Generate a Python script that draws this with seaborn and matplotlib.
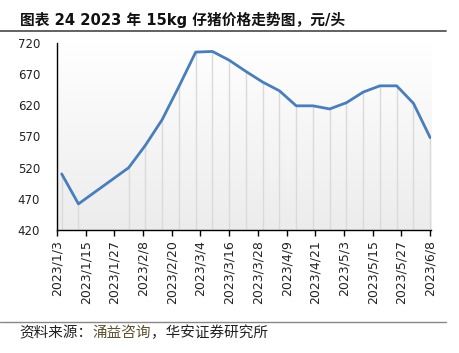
import numpy as np
import pandas as pd
import matplotlib
matplotlib.use("Agg")
import matplotlib.pyplot as plt
import seaborn as sns

dates = ["2023-01-05", "2023-01-12", "2023-02-02", "2023-02-09", "2023-02-16", "2023-02-23",
         "2023-03-02", "2023-03-09", "2023-03-16", "2023-03-23", "2023-03-30", "2023-04-06",
         "2023-04-13", "2023-04-20", "2023-04-27", "2023-05-04", "2023-05-11", "2023-05-18",
         "2023-05-25", "2023-06-01", "2023-06-08"]
prices = [510, 462, 520, 556, 597, 650, 705, 706, 692, 674, 657, 643,
          619, 619, 614, 624, 641, 651, 651, 623, 568]
y_ticks = [420, 470, 520, 570, 620, 670, 720]
tick_start = "2023-01-03"
tick_end = "2023-06-08"
title = "图表 24 2023 年 15kg 仔猪价格走势图，元/头"
source_a = "资料来源："
source_b = "涌益咨询"
source_c = "，华安证券研究所"

sns.set_theme(style="white")
plt.rcParams['font.family'] = ['DejaVu Sans', 'Noto Sans CJK SC']

df = pd.DataFrame({"date": pd.to_datetime(dates), "price": prices})

fig = plt.figure(figsize=(4.59, 3.53), dpi=100)
ax = fig.add_axes([0.124, 0.348, 0.815, 0.531])

# gradient background
grad = np.linspace(1, 0, 256).reshape(-1, 1)
cmap = matplotlib.colors.LinearSegmentedColormap.from_list("g", ["#ececec", "#ffffff"])
ax.imshow(grad, extent=[0, 1, 0, 1], transform=ax.transAxes, aspect="auto",
          cmap=cmap, origin="upper", zorder=0)

ax.vlines(df["date"], y_ticks[0], df["price"], color="#dadada", lw=1.0, zorder=1)
sns.lineplot(data=df, x="date", y="price", ax=ax, color="#4a7ebb", lw=2.0, zorder=3)

x0 = pd.Timestamp(tick_start)
x1 = pd.Timestamp(tick_end)
ax.set_xlim(x0, x1 + pd.Timedelta(hours=8))
ax.set_ylim(y_ticks[0], y_ticks[-1])
ticks = pd.date_range(x0, x1, freq="12D")
ax.set_xticks(ticks)
ax.set_xticklabels([f"{d.year}/{d.month}/{d.day}" for d in ticks], rotation=90, fontsize=9, color="#222222")
ax.set_yticks(y_ticks)
ax.set_yticklabels([str(v) for v in y_ticks], fontsize=8.5, color="#222222")
ax.set_xlabel("")
ax.set_ylabel("")
for s in ["top", "right"]:
    ax.spines[s].set_visible(False)
for s in ["left", "bottom"]:
    ax.spines[s].set_color("black")
    ax.spines[s].set_linewidth(1.0)
ax.tick_params(axis="x", direction="out", length=4, width=1, color="black", pad=3, bottom=True)
ax.tick_params(axis="y", length=0, pad=12)
ax.grid(False)

fig.text(0.044, 0.944, title, fontsize=10.6, fontweight="bold", ha="left", va="center",
         family=['DejaVu Sans', 'Noto Sans CJK SC'], color="#111111")
fig.add_artist(matplotlib.lines.Line2D([0.0, 0.972], [0.913, 0.913], color="#555555", lw=1.3))
fig.add_artist(matplotlib.lines.Line2D([0.0, 0.972], [0.088, 0.088], color="#888888", lw=1.0))

fs = 10.5
t1 = fig.text(0.042, 0.057, source_a, fontsize=fs, ha="left", va="center",
              family=['Noto Sans CJK SC'], color="#222222")
fig.canvas.draw()
bb = t1.get_window_extent()
t2 = fig.text(bb.x1 / fig.bbox.width, 0.057, source_b, fontsize=fs, ha="left", va="center",
              family=['Noto Sans CJK SC'], color="#5c5030")
fig.canvas.draw()
bb2 = t2.get_window_extent()
fig.text(bb2.x1 / fig.bbox.width, 0.057, source_c, fontsize=fs, ha="left", va="center",
         family=['Noto Sans CJK SC'], color="#222222")

fig.savefig("out.png", dpi=100)
